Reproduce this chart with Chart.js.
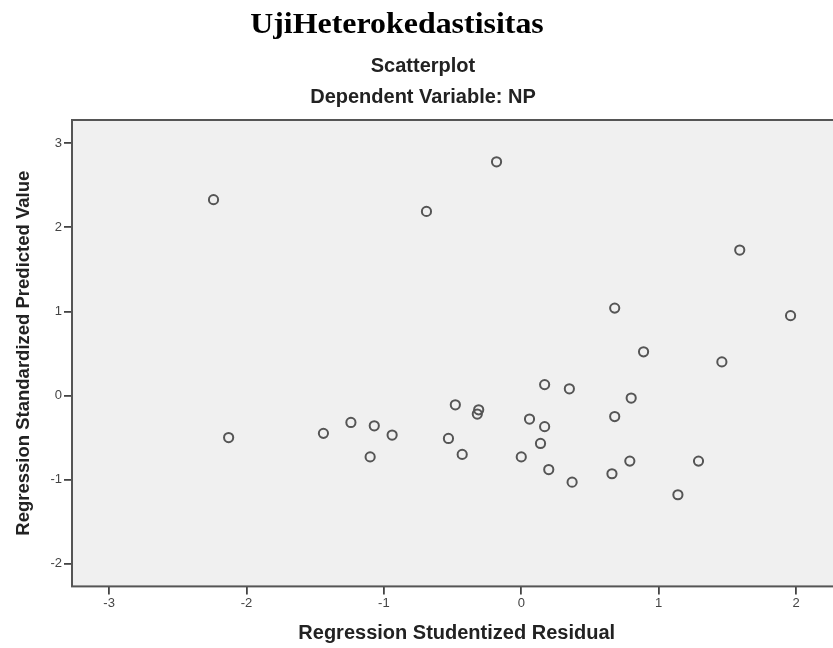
<!DOCTYPE html>
<html>
<head>
<meta charset="utf-8">
<script src="https://cdn.jsdelivr.net/npm/chart.js@4.4.1/dist/chart.umd.min.js"></script>
<style>
    html, body { margin: 0; padding: 0; background: #fff; overflow: hidden; width: 833px; height: 648px; }
    #wrap { position: relative; width: 833px; height: 648px; overflow: hidden; }
    #heading {
        position: absolute; left: 0; top: 9px; width: 794px;
        text-align: center; font: bold 29px/29px 'Liberation Serif', 'Times New Roman', serif;
        color: #000; transform: scaleX(1.1); transform-origin: 397px 0;
    }
    #chartCanvas { position: absolute; left: 0; top: 0; }
</style>
</head>
<body>
<div id="wrap">
    <canvas id="chartCanvas" width="848" height="648"></canvas>
    <div id="heading">UjiHeterokedastisitas</div>
</div>
<script>
// Regression Studentized Residual (x) and Regression Standardized Predicted Value (y)
const residuals = [
    -2.24, -0.69, -0.18, 1.59, 0.68, 1.96, 0.89, 1.46, 0.17, 0.35, 0.80,
    -0.48, -0.31, -0.32, 0.06, 0.68, 0.17, -0.53, 0.14, -0.43, 0.00, 0.79,
    1.29, 0.20, 0.66, 0.37, 1.14, -2.13, -1.44, -1.24, -1.07, -0.94, -1.10
];
const predicted = [
    2.33, 2.19, 2.78, 1.73, 1.04, 0.95, 0.52, 0.40, 0.13, 0.08, -0.03,
    -0.11, -0.17, -0.22, -0.28, -0.25, -0.37, -0.51, -0.57, -0.70, -0.73, -0.78,
    -0.78, -0.88, -0.93, -1.03, -1.18, -0.50, -0.45, -0.32, -0.36, -0.47, -0.73
];
const xTicks = [-3, -2, -1, 0, 1, 2];
const yTicks = [-2, -1, 0, 1, 2, 3];

const points = residuals.map((x, i) => ({ x: x, y: predicted[i] }));

const plotFrame = {
    id: 'plotFrame',
    beforeDatasetsDraw(chart) {
        const { ctx, chartArea: a } = chart;
        ctx.save();
        ctx.fillStyle = '#f0f0f0';
        ctx.fillRect(a.left, a.top, a.right - a.left, a.bottom - a.top);
        ctx.strokeStyle = '#555';
        ctx.lineWidth = 2;
        ctx.strokeRect(a.left, a.top, a.right - a.left, a.bottom - a.top);
        ctx.restore();
    }
};

const tickFont = { family: "'Liberation Sans', Arial, sans-serif", size: 13 };

new Chart(document.getElementById('chartCanvas'), {
    type: 'scatter',
    data: {
        datasets: [{
            data: points,
            pointStyle: 'circle',
            pointRadius: 4.6,
            pointBorderWidth: 2,
            borderColor: '#555',
            backgroundColor: 'rgba(0,0,0,0)'
        }]
    },
    options: {
        responsive: false,
        animation: false,
        layout: { padding: { top: 54, right: 2, bottom: 0, left: 0 } },
        plugins: {
            legend: { display: false },
            tooltip: { enabled: false },
            title: {
                display: true,
                text: 'Scatterplot',
                color: '#222',
                font: { family: "'Liberation Sans', Arial, sans-serif", size: 20, weight: 'bold' },
                padding: { top: 0, bottom: 7 }
            },
            subtitle: {
                display: true,
                text: 'Dependent Variable: NP',
                color: '#222',
                font: { family: "'Liberation Sans', Arial, sans-serif", size: 20, weight: 'bold' },
                padding: { top: 0, bottom: 11 }
            }
        },
        scales: {
            x: {
                type: 'linear',
                min: -3.27,
                max: 2.33,
                afterBuildTicks: (scale) => { scale.ticks = xTicks.map(v => ({ value: v })); },
                grid: { drawOnChartArea: false, drawTicks: true, tickLength: 8, color: '#444', lineWidth: 1.8 },
                border: { display: false },
                ticks: { color: '#444', font: tickFont, padding: 1.5 },
                title: {
                    display: true,
                    text: 'Regression Studentized Residual',
                    color: '#222',
                    font: { family: "'Liberation Sans', Arial, sans-serif", size: 20, weight: 'bold' },
                    padding: { top: 8, bottom: 3 }
                }
            },
            y: {
                type: 'linear',
                min: -2.27,
                max: 3.277,
                afterBuildTicks: (scale) => { scale.ticks = yTicks.map(v => ({ value: v })); },
                afterFit: (scale) => { scale.width = 72; },
                grid: { drawOnChartArea: false, drawTicks: true, tickLength: 8, color: '#444', lineWidth: 1.8 },
                border: { display: false },
                ticks: { color: '#444', font: tickFont, padding: 2 },
                title: {
                    display: true,
                    text: 'Regression Standardized Predicted Value',
                    color: '#222',
                    font: { family: "'Liberation Sans', Arial, sans-serif", size: 18.5, weight: 'bold' },
                    padding: { top: 13, bottom: 0 }
                }
            }
        }
    },
    plugins: [plotFrame]
});
</script>
</body>
</html>
